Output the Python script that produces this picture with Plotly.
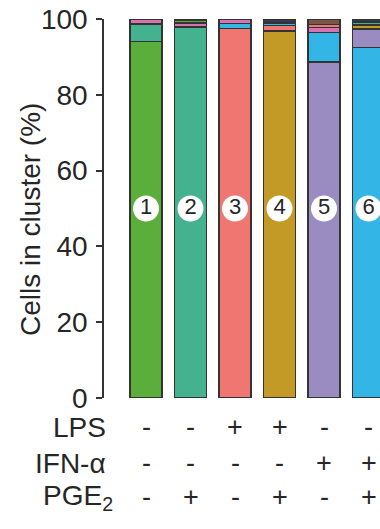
import plotly.graph_objects as go

# ---- data ----
conditions = [1, 2, 3, 4, 5, 6]
cluster_colors = {
    1: "#5BAE3B",  # green
    2: "#44B18F",  # teal
    3: "#EF7671",  # salmon
    4: "#C49A26",  # gold
    5: "#9A8BC1",  # purple
    6: "#33B5E5",  # blue
    7: "#D674B0",  # pink
    8: "#7B5646",  # brown
    9: "#343A52",  # dark
}
# stacking order (bottom -> top) per condition
bar1_clusters = [1, 2, 7]
bar1_values = [94.1, 4.6, 1.3]
bar2_clusters = [2, 7, 1, 9]
bar2_values = [97.9, 1.1, 0.6, 0.4]
bar3_clusters = [3, 6, 7]
bar3_values = [97.5, 1.3, 1.2]
bar4_clusters = [4, 3, 6, 9]
bar4_values = [96.9, 1.4, 0.7, 1.0]
bar5_clusters = [5, 6, 7, 3, 8]
bar5_values = [88.6, 7.8, 1.4, 0.8, 1.4]
bar6_clusters = [6, 5, 4, 2, 9]
bar6_values = [92.5, 4.9, 1.0, 0.8, 0.8]

lps = ["-", "-", "+", "+", "-", "-"]
ifn = ["-", "-", "-", "-", "+", "+"]
pge2 = ["-", "+", "-", "+", "-", "+"]
row_labels = ["LPS", "IFN-α", "PGE<sub>2</sub>"]

y_ticks = [0, 20, 40, 60, 80, 100]
circle_y = 50

FONT = "Liberation Sans, Arial, sans-serif"
TXT = "#262626"

bars = [
    (bar1_clusters, bar1_values),
    (bar2_clusters, bar2_values),
    (bar3_clusters, bar3_values),
    (bar4_clusters, bar4_values),
    (bar5_clusters, bar5_values),
    (bar6_clusters, bar6_values),
]

fig = go.Figure()
for cond, (cl, vals) in zip(conditions, bars):
    for c, v in zip(cl, vals):
        fig.add_trace(go.Bar(
            x=[cond], y=[v], width=0.72,
            marker=dict(color=cluster_colors[c], line=dict(color="#333333", width=1.5)),
            showlegend=False, cliponaxis=False,
        ))

fig.add_trace(go.Scatter(
    x=conditions, y=[circle_y] * len(conditions),
    mode="markers+text",
    marker=dict(symbol="circle", size=26, color="white", line=dict(width=0)),
    text=[str(c) for c in conditions], textposition="middle center",
    textfont=dict(family=FONT, size=22, color=TXT),
    showlegend=False, cliponaxis=False,
))

def py(pix):
    return (398 - pix) / 379.0

annotations = []
rows = [(lps, 427), (ifn, 463), (pge2, 497)]
for (signs, ypix), lab in zip(rows, row_labels):
    for cond, s in zip(conditions, signs):
        annotations.append(dict(
            x=cond, y=py(ypix), xref="x", yref="paper", text=s, showarrow=False,
            xanchor="center", yanchor="middle",
            font=dict(family=FONT, size=27, color=TXT),
        ))
    xr = (108 - 104) / 276.0 if lab != row_labels[2] else (115 - 104) / 276.0
    annotations.append(dict(
        x=xr, y=py(ypix), xref="paper", yref="paper", text=lab, showarrow=False,
        xanchor="right", yanchor="middle",
        font=dict(family=FONT, size=28, color=TXT),
    ))

annotations.append(dict(
    x=(30 - 104) / 276.0, y=py(220), xref="paper", yref="paper",
    text="Cells in cluster (%)", textangle=-90, showarrow=False,
    xanchor="center", yanchor="middle",
    font=dict(family=FONT, size=28, color=TXT),
))

fig.update_layout(
    width=380, height=529,
    margin=dict(l=104, r=0, t=19, b=131, pad=0),
    paper_bgcolor="white", plot_bgcolor="white",
    barmode="stack", bargap=0.28,
    annotations=annotations,
    xaxis=dict(range=[(104 - 146) / 44.5 + 1, (380 - 146) / 44.5 + 1],
               showline=False, showticklabels=False, showgrid=False,
               zeroline=False, ticks="", fixedrange=True),
    yaxis=dict(range=[0, 100], tickvals=y_ticks, ticks="outside", ticklen=6,
               tickwidth=1.5, tickcolor="#333333", showline=True, linewidth=1.5,
               linecolor="#333333", showgrid=False, zeroline=False,
               tickfont=dict(family=FONT, size=28, color=TXT), ticklabelstandoff=3),
)

fig.write_html("out.html")
